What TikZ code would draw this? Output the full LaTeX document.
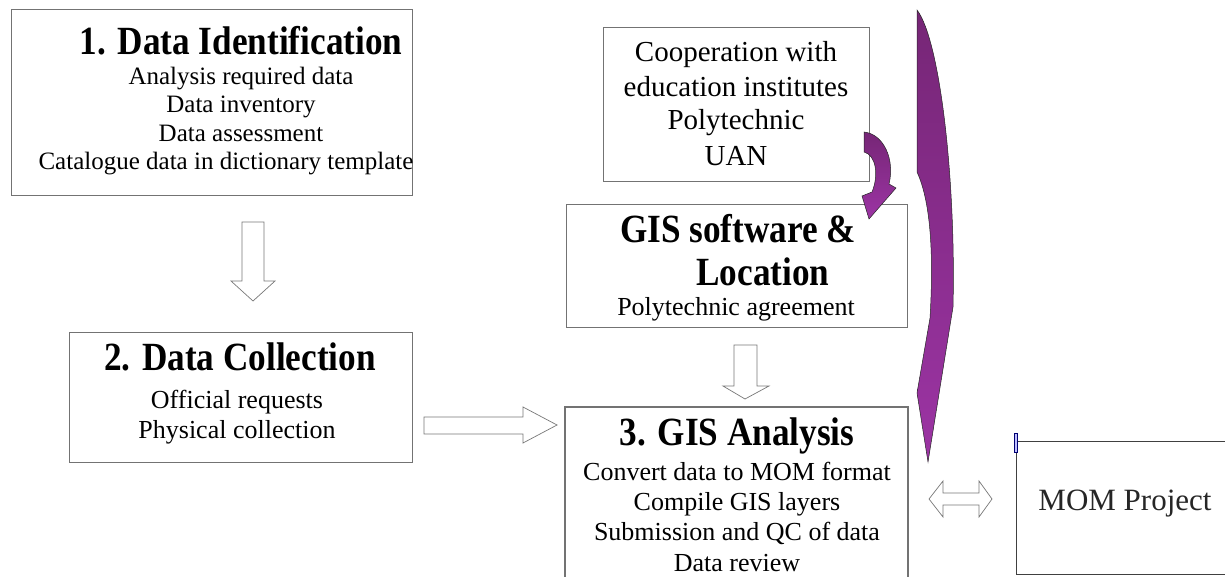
\documentclass[tikz,border=0pt]{standalone}
\usepackage{fontspec}
\setmainfont{Liberation Serif}
\newfontfamily\headfont{Liberation Serif}[FakeStretch=0.88]
\usepackage{tikz}

\definecolor{boxgray}{RGB}{115,115,115}
\definecolor{arrowgray}{RGB}{120,120,120}
\definecolor{purpledark}{RGB}{118,38,118}
\definecolor{purplelight}{RGB}{156,52,164}

\begin{document}
\begin{tikzpicture}[x=1pt,y=-1pt]
  \tikzstyle{box}=[draw=boxgray, line width=1.1pt, anchor=north west, inner sep=0pt]
  \tikzstyle{head}=[anchor=base, inner sep=0pt, font=\headfont\fontsize{40}{44}\selectfont\bfseries]
  \tikzstyle{body}=[anchor=base, inner sep=0pt, font=\fontsize{26}{30}\selectfont]
  \tikzstyle{blockarrow}=[draw=arrowgray, fill=white, line width=0.7pt, line join=miter]
  \tikzstyle{curved}=[draw=black!85, line width=0.5pt, top color=purpledark, bottom color=purplelight]
  \useasboundingbox (0,0) rectangle (1225,577);
  \clip (0,0) rectangle (1225,577);

  % 1. Data Identification
  \node[box, minimum width=401, minimum height=186] (ident) at (11,9) {};
  \node[head] (identhead) at (241,55) {1. Data Identification};
  \node[body, font=\fontsize{25}{30}\selectfont] (identa) at (241,85) {Analysis required data};
  \node[body, font=\fontsize{25}{30}\selectfont] (identb) at (241,113) {Data inventory};
  \node[body, font=\fontsize{25}{30}\selectfont] (identc) at (241,142) {Data assessment};
  \node[body, font=\fontsize{25}{30}\selectfont] (identd) at (226,170) {Catalogue data in dictionary template};

  % 2. Data Collection
  \node[box, minimum width=343, minimum height=130] (collect) at (69,332) {};
  \node[head] (collecthead) at (240,370) {2. Data Collection};
  \node[body] (collecta) at (237,408) {Official requests};
  \node[body] (collectb) at (237,438) {Physical collection};

  % Cooperation
  \node[box, minimum width=266, minimum height=154] (coop) at (603,27) {};
  \node[body, font=\fontsize{29}{34}\selectfont] (coopa) at (736,62) {Cooperation with};
  \node[body, font=\fontsize{29}{34}\selectfont] (coopb) at (736,97) {education institutes};
  \node[body, font=\fontsize{29}{34}\selectfont] (coopc) at (736,130) {Polytechnic};
  \node[body, font=\fontsize{29}{34}\selectfont] (coopd) at (736,166) {UAN};

  % GIS software & Location
  \node[box, minimum width=341, minimum height=123] (soft) at (566,204) {};
  \node[head] (softa) at (738,243) {GIS software \&};
  \node[head] (softb) at (763,285) {Location};
  \node[body] (softc) at (736,315) {Polytechnic agreement};

  % 3. GIS Analysis
  \draw[draw=boxgray, line width=1.1pt] (565,620) -- (565,407) -- (908,407) -- (908,620);
  \node[head] (gishead) at (737,445) {3. GIS Analysis};
  \node[body] (gisa) at (737,480) {Convert data to MOM format};
  \node[body] (gisb) at (737,510) {Compile GIS layers};
  \node[body] (gisc) at (737,540) {Submission and QC of data};
  \node[body] (gisd) at (737,571) {Data review};

  % MOM Project
  \draw[draw=black!75, line width=0.9pt] (1230,441) -- (1016,441) -- (1016,574) -- (1230,574);
  \draw[draw=blue!45!black, fill=blue!25, line width=0.4pt] (1014,433) rectangle (1017,452);
  \node[anchor=base, inner sep=0pt, font=\fontsize{31}{36}\selectfont, text=black!85] (mom) at (1125,510) {MOM Project};

  % block arrows
  \draw[blockarrow] (242,222) -- (264,222) -- (264,281) -- (275,281) -- (253,301) -- (231,281) -- (242,281) -- cycle;
  \draw[blockarrow] (734,345) -- (757,345) -- (757,386) -- (769,386) -- (745,399) -- (723,386) -- (734,386) -- cycle;
  \draw[blockarrow] (424,417) -- (523,417) -- (523,407) -- (557,425) -- (523,443) -- (523,434) -- (424,434) -- cycle;
  \draw[blockarrow] (929,499) -- (943,481) -- (943,493) -- (979,493) -- (979,481) -- (992,499) -- (979,517) -- (979,505) -- (943,505) -- (943,517) -- cycle;

  % curved arrows
  \draw[curved] (864,132) .. controls (884,134) and (895,160) .. (889,184) -- (896,188) -- (869,219) -- (862,196) -- (872,192) .. controls (879,175) and (876,155) .. (864,152) -- cycle;
  \draw[curved] (917,10) .. controls (940,40) and (956,180) .. (953,307) -- (928,462) -- (917,393) -- (930,318) .. controls (934,250) and (930,200) .. (917,172) -- cycle;
\end{tikzpicture}
\end{document}
